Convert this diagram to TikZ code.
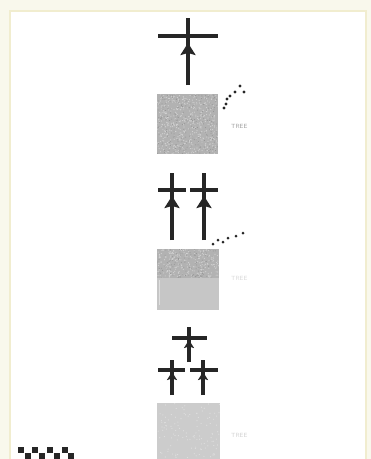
\documentclass[tikz,border=0pt]{standalone}
\usetikzlibrary{arrows.meta}
\definecolor{ink}{HTML}{262626}
\definecolor{edge}{HTML}{F1EDCF}
\begin{document}
\begin{tikzpicture}[x=1pt,y=-1pt,
  bar/.style={ink,line width=4pt},
  small/.style={ink,line width=3.4pt},
  tip/.style={-{Stealth[length=12pt,width=15pt,inset=2pt]}},
  stip/.style={-{Stealth[length=8pt,width=10pt,inset=1.5pt]}},
  label/.style={font=\fontsize{6}{7}\selectfont\sffamily,inner sep=0pt,anchor=west}]
\useasboundingbox (0,0) rectangle (371,459);
\pgfmathsetseed{7}

% page edge
\fill[edge!40] (0,0) rectangle (371,459);
\fill[white] (10,11) rectangle (366,459);
\draw[edge,line width=1.6pt] (10,459) -- (10,11) -- (366,11) -- (366,459);

% one tree
\draw[bar] (158,36) -- (218,36);
\draw[bar,tip] (188,85) -- (188,43);
\draw[bar] (188,47) -- (188,18);

\fill[gray!60] (157,94) rectangle (218,154);
\foreach \i in {1,...,500}
  \fill[gray!35] (157.5+rnd*60,94.5+rnd*59) circle (0.6);
\foreach \i in {1,...,250}
  \fill[gray!85] (157.5+rnd*60,94.5+rnd*59) circle (0.5);
\node[label,gray!75] (lab1) at (231,126) {TREE};
\foreach \p in {(240,86),(235,92),(230,96),(227,99),(226,104),(224,108),(244,92)}
  \fill[ink] \p circle (1.6);

% two trees
\draw[bar] (158,190) -- (186,190);
\draw[bar] (190,190) -- (218,190);
\draw[bar,tip] (172,240) -- (172,196);
\draw[bar] (172,200) -- (172,173);
\draw[bar,tip] (204,240) -- (204,196);
\draw[bar] (204,200) -- (204,173);

\fill[gray!60] (157,249) rectangle (219,278);
\foreach \i in {1,...,250}
  \fill[gray!35] (157.5+rnd*61,249.5+rnd*28) circle (0.6);
\foreach \i in {1,...,120}
  \fill[gray!85] (157.5+rnd*61,249.5+rnd*28) circle (0.5);
\fill[gray!45] (157,278) rectangle (219,310);
\fill[gray!25] (159,280) rectangle (160,305);
\node[label,gray!30] (lab2) at (231,278) {TREE};
\foreach \p in {(213,244),(218,240),(223,242),(228,238),(236,236),(243,233)}
  \fill[ink] \p circle (1.5);

% three trees
\draw[small] (172,338) -- (207,338);
\draw[small,stip] (189,362) -- (189,340);
\draw[small] (189,344) -- (189,327);
\draw[small] (158,370) -- (185,370);
\draw[small,stip] (172,395) -- (172,372);
\draw[small] (172,376) -- (172,360);
\draw[small] (190,370) -- (218,370);
\draw[small,stip] (203,395) -- (203,372);
\draw[small] (203,376) -- (203,360);

\fill[gray!40] (157,403) rectangle (220,459);
\foreach \i in {1,...,120}
  \fill[gray!25] (157.5+rnd*62,403.5+rnd*55) circle (0.6);
\node[label,gray!35] (lab3) at (231,435) {TREE};

% scale bar
\foreach \x in {18,32,47,62}
  \fill[ink] (\x,447) rectangle (\x+6,453);
\foreach \x in {25,39,54,68}
  \fill[ink] (\x,453) rectangle (\x+6,459);
\end{tikzpicture}
\end{document}
